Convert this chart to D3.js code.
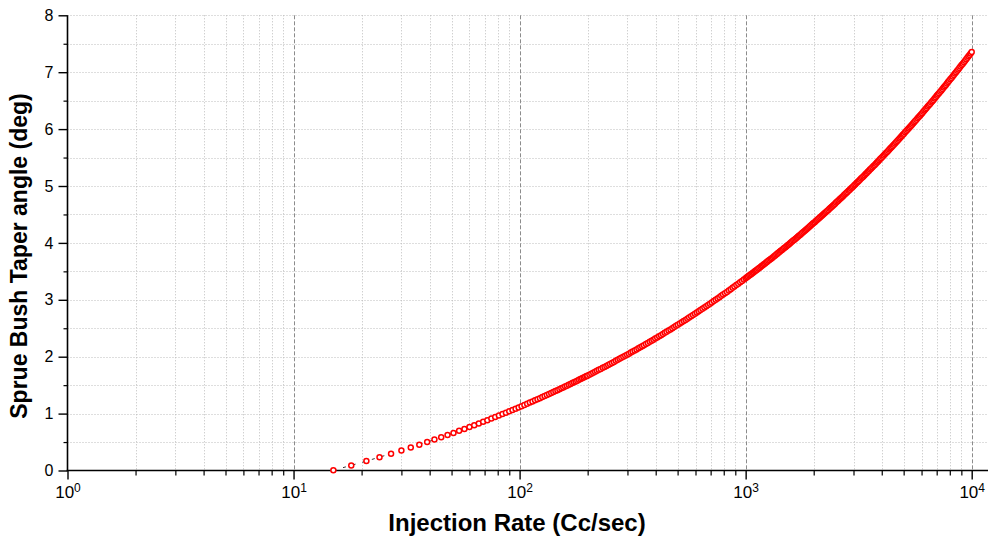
<!DOCTYPE html>
<html>
<head>
<meta charset="utf-8">
<script src="https://cdn.jsdelivr.net/npm/d3@7"></script>
<style>
  html, body { margin: 0; padding: 0; background: #fff; }
  svg { display: block; font-family: Arial, "Liberation Sans", Helvetica, sans-serif; }
</style>
</head>
<body>
<svg id="chart" width="988" height="537"></svg>
<script>
// Injection rate (Cc/sec) and the matching sprue bush taper angle (deg)
const rateA = [15,18,21,24,27,30,33,36,39,42,45,48,51,54,57,60,63,66,69,72,75,78,81,84,87,90,93,96,99,
  102,105,108,111,114,117,120,123,126,129,132,135,138,141,144,147,150,153,156,159,162,165,168,171,174,
  177,180,183,186,189,192,195,198];
const angleA = [0.004,0.090,0.166,0.234,0.296,0.352,0.405,0.454,0.500,0.544,0.585,0.624,0.661,0.697,0.731,
  0.764,0.796,0.827,0.856,0.885,0.913,0.939,0.966,0.991,1.016,1.040,1.063,1.086,1.109,1.131,1.152,1.173,
  1.193,1.214,1.233,1.253,1.271,1.290,1.308,1.326,1.344,1.361,1.378,1.395,1.412,1.428,1.444,1.460,1.476,
  1.491,1.506,1.521,1.536,1.550,1.565,1.579,1.593,1.607,1.620,1.634,1.647,1.660];

const rateB = [199.5,203.6,207.6,211.7,215.8,219.8,223.9,228.4,233.0,237.5,242.1,246.6,
  251.2,256.3,261.4,266.5,271.6,276.7,281.8,287.6,293.3,299.0,304.8,310.5,
  316.2,322.7,329.1,335.5,341.9,348.4,354.8,362.0,369.2,376.5,383.7,390.9,
  398.1,406.2,414.3,422.4,430.5,438.6,446.7,455.8,464.9,473.9,483.0,492.1,
  501.2,511.4,521.6,531.8,542.0,552.1,562.3,573.8,585.2,596.7,608.1,619.5,
  631.0,643.8,656.6,669.5,682.3,695.1,708.0,722.3,736.7,751.1,765.5,779.9,
  794.3,810.5,826.6,842.8,858.9,875.1,891.3,909.4,927.5,945.6,963.8,981.9];
const angleB = [1.667,1.684,1.701,1.718,1.735,1.752,1.769,1.786,1.804,1.821,1.838,1.856,
  1.873,1.891,1.909,1.927,1.945,1.962,1.980,1.999,2.017,2.035,2.054,2.072,
  2.091,2.109,2.128,2.147,2.166,2.184,2.203,2.222,2.242,2.261,2.281,2.300,
  2.319,2.339,2.359,2.379,2.399,2.419,2.439,2.460,2.480,2.501,2.522,2.542,
  2.563,2.584,2.605,2.626,2.647,2.668,2.689,2.711,2.733,2.755,2.776,2.798,
  2.820,2.842,2.865,2.887,2.909,2.932,2.954,2.977,3.000,3.023,3.046,3.069,
  3.092,3.116,3.139,3.163,3.187,3.210,3.234,3.258,3.282,3.307,3.331,3.355];

const rateC = [1000,1012,1024,1037,1049,1061,1073,1085,1098,1110,
  1122,1136,1149,1163,1177,1190,1204,1218,1232,1245,
  1259,1274,1290,1305,1320,1336,1351,1366,1382,1397,
  1413,1430,1447,1464,1481,1499,1516,1533,1550,1568,
  1585,1604,1624,1643,1662,1682,1701,1720,1740,1759,
  1778,1800,1822,1843,1865,1887,1909,1930,1952,1974,
  1995,2020,2044,2068,2093,2117,2141,2166,2190,2214,
  2239,2266,2293,2321,2348,2375,2403,2430,2457,2485,
  2512,2543,2573,2604,2635,2665,2696,2726,2757,2788,
  2818,2853,2887,2922,2956,2990,3025,3059,3094,3128,
  3162,3201,3239,3278,3317,3355,3394,3432,3471,3510,
  3548,3591,3635,3678,3721,3765,3808,3851,3895,3938,
  3981,4030,4078,4127,4175,4224,4273,4321,4370,4418,
  4467,4521,4576,4630,4685,4739,4794,4848,4903,4957,
  5012,5073,5134,5195,5256,5318,5379,5440,5501,5562,
  5623,5692,5761,5829,5898,5966,6035,6104,6172,6241,
  6310,6387,6464,6541,6618,6695,6772,6849,6926,7003,
  7080,7166,7252,7339,7425,7511,7598,7684,7771,7857,
  7943,8040,8137,8234,8331,8428,8525,8622,8719,8816,
  8913,9021,9130,9239,9348,9456,9565,9674,9783,9891,10000];
const angleC = [3.380,3.395,3.410,3.425,3.440,3.455,3.470,3.485,3.500,3.515,
  3.530,3.546,3.561,3.577,3.592,3.607,3.623,3.638,3.654,3.669,
  3.685,3.700,3.716,3.732,3.748,3.764,3.780,3.796,3.812,3.827,
  3.843,3.860,3.876,3.892,3.909,3.925,3.941,3.958,3.974,3.990,
  4.007,4.024,4.040,4.057,4.074,4.091,4.108,4.124,4.141,4.158,
  4.175,4.192,4.209,4.227,4.244,4.261,4.279,4.296,4.313,4.330,
  4.348,4.365,4.383,4.401,4.419,4.437,4.454,4.472,4.490,4.508,
  4.525,4.544,4.562,4.580,4.599,4.617,4.635,4.653,4.672,4.690,
  4.708,4.727,4.746,4.765,4.784,4.802,4.821,4.840,4.859,4.877,
  4.896,4.916,4.935,4.954,4.974,4.993,5.012,5.032,5.051,5.071,
  5.090,5.110,5.130,5.149,5.169,5.189,5.209,5.229,5.249,5.269,
  5.289,5.309,5.330,5.350,5.371,5.391,5.412,5.432,5.452,5.473,
  5.493,5.514,5.535,5.557,5.578,5.599,5.620,5.641,5.662,5.683,
  5.704,5.725,5.747,5.769,5.790,5.812,5.834,5.855,5.877,5.899,
  5.920,5.943,5.965,5.987,6.009,6.032,6.054,6.076,6.098,6.121,
  6.143,6.166,6.189,6.212,6.235,6.258,6.280,6.303,6.326,6.349,
  6.372,6.396,6.419,6.443,6.466,6.490,6.513,6.537,6.560,6.584,
  6.608,6.632,6.656,6.680,6.705,6.729,6.753,6.777,6.801,6.826,
  6.850,6.875,6.900,6.925,6.950,6.975,7.000,7.024,7.049,7.074,
  7.099,7.125,7.150,7.176,7.202,7.227,7.253,7.279,7.304,7.330,7.355];

const xMajorTicks = [1, 10, 100, 1000, 10000];
const xTickExponents = ["0", "1", "2", "3", "4"];
const yMajorTicks = [0, 1, 2, 3, 4, 5, 6, 7, 8];
const yMinorTicks = [0.5, 1.5, 2.5, 3.5, 4.5, 5.5, 6.5, 7.5];
const xTitle = "Injection Rate (Cc/sec)";
const yTitle = "Sprue Bush Taper angle (deg)";

// Pair the rate/angle columns into points
function pairUp(rates, angles) {
  const n = Math.min(rates.length, angles.length);
  return d3.range(n).map(i => ({ rate: rates[i], angle: angles[i] }));
}
const points = [].concat(pairUp(rateA, angleA), pairUp(rateB, angleB), pairUp(rateC, angleC));

const W = 988, H = 537;
const svg = d3.select("#chart");

const x = d3.scaleLog().domain([1, 1e4]).range([67.5, 971.7]);
const y = d3.scaleLinear().domain([0, 8]).range([470.5, 15.3]);
const xLeft = x(1), xEnd = W;
const yBottom = y(0), yTop = y(8);

const xMinorTicks = x.ticks().filter(v => !xMajorTicks.includes(v));

// ---- grid ----
const grid = svg.append("g").attr("class", "grid");
grid.selectAll("line.hgrid")
  .data(yMajorTicks.filter(v => v > 0).concat(yMinorTicks))
  .join("line")
  .attr("x1", xLeft).attr("x2", xEnd)
  .attr("y1", d => Math.round(y(d)) + 0.5).attr("y2", d => Math.round(y(d)) + 0.5)
  .attr("stroke", "#bdbdbd").attr("stroke-width", 1).attr("stroke-dasharray", "1,2");
grid.selectAll("line.vminor")
  .data(xMinorTicks)
  .join("line")
  .attr("x1", d => Math.round(x(d)) + 0.5).attr("x2", d => Math.round(x(d)) + 0.5)
  .attr("y1", yTop).attr("y2", yBottom)
  .attr("stroke", "#bdbdbd").attr("stroke-width", 1).attr("stroke-dasharray", "1,2");
grid.selectAll("line.vmajor")
  .data(xMajorTicks.filter(v => v > 1))
  .join("line")
  .attr("x1", d => Math.round(x(d)) + 0.5).attr("x2", d => Math.round(x(d)) + 0.5)
  .attr("y1", yTop).attr("y2", yBottom)
  .attr("stroke", "#8c8c8c").attr("stroke-width", 1).attr("stroke-dasharray", "4,2");

// ---- axes ----
const yAxis = svg.append("g").attr("transform", `translate(${xLeft},0)`)
  .call(d3.axisLeft(y).tickValues(yMajorTicks).tickSize(9).tickPadding(5).tickSizeOuter(0));
yAxis.select(".domain").remove();
yAxis.selectAll(".tick line").attr("stroke", "#000").attr("stroke-width", 1.4);
yAxis.selectAll(".tick text").attr("font-size", 16).attr("fill", "#000")
  .attr("font-family", 'Arial, "Liberation Sans", sans-serif');

const yAxisMinor = svg.append("g").attr("transform", `translate(${xLeft},0)`)
  .call(d3.axisLeft(y).tickValues(yMinorTicks).tickSize(4).tickFormat(""));
yAxisMinor.select(".domain").remove();
yAxisMinor.selectAll(".tick line").attr("stroke", "#000").attr("stroke-width", 1.2);

const xAxis = svg.append("g").attr("transform", `translate(0,${yBottom})`)
  .call(d3.axisBottom(x).tickValues(xMajorTicks).tickSize(9).tickPadding(8).tickSizeOuter(0)
    .tickFormat(() => ""));
xAxis.select(".domain").remove();
xAxis.selectAll(".tick line").attr("stroke", "#000").attr("stroke-width", 1.4);
xAxis.selectAll(".tick text")
  .attr("font-size", 17).attr("fill", "#000").attr("dy", "0.71em").attr("y", 15)
  .attr("font-family", 'Arial, "Liberation Sans", sans-serif')
  .each(function (d, i) {
    const t = d3.select(this);
    t.append("tspan").text("10");
    t.append("tspan").attr("dy", "-0.45em").attr("font-size", 12).text(xTickExponents[i]);
  });

const xAxisMinor = svg.append("g").attr("transform", `translate(0,${yBottom})`)
  .call(d3.axisBottom(x).tickValues(xMinorTicks).tickSize(5).tickFormat(""));
xAxisMinor.select(".domain").remove();
xAxisMinor.selectAll(".tick line").attr("stroke", "#000").attr("stroke-width", 1.2);

// axis lines
svg.append("line").attr("x1", xLeft).attr("x2", xLeft).attr("y1", yTop).attr("y2", yBottom + 0.8)
  .attr("stroke", "#000").attr("stroke-width", 1.6);
svg.append("line").attr("x1", xLeft - 0.8).attr("x2", xEnd).attr("y1", yBottom).attr("y2", yBottom)
  .attr("stroke", "#000").attr("stroke-width", 1.6);

// ---- data: thin connecting line under open circle symbols ----
svg.append("path").datum(points)
  .attr("d", d3.line().x(d => x(d.rate)).y(d => y(d.angle)))
  .attr("fill", "none").attr("stroke", "#000").attr("stroke-width", 0.8)
  .attr("stroke-dasharray", "3,7");

svg.append("g").selectAll("circle")
  .data(points)
  .join("circle")
  .attr("cx", d => x(d.rate))
  .attr("cy", d => y(d.angle))
  .attr("r", 2.5)
  .attr("fill", "#fff")
  .attr("stroke", "#ff0000")
  .attr("stroke-width", 1.5);

// ---- titles ----
svg.append("text")
  .attr("x", 517).attr("y", 531)
  .attr("text-anchor", "middle")
  .attr("font-size", 24).attr("font-weight", "bold").attr("fill", "#000")
  .text(xTitle);

svg.append("text")
  .attr("transform", "translate(27,256) rotate(-90)")
  .attr("text-anchor", "middle")
  .attr("font-size", 23).attr("font-weight", "bold").attr("fill", "#000")
  .text(yTitle);
</script>
</body>
</html>
